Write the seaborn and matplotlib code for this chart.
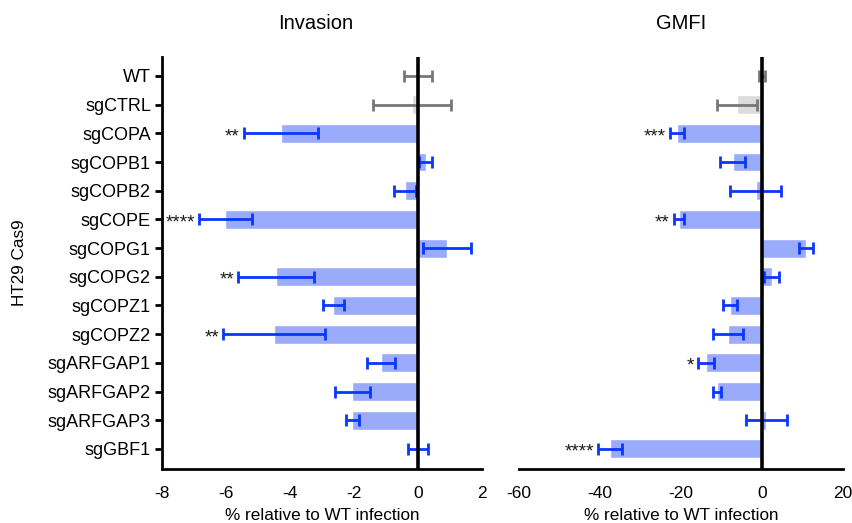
import matplotlib
matplotlib.use("Agg")
import matplotlib.pyplot as plt
import seaborn as sns
import numpy as np
import pandas as pd

sns.set_style("white")
plt.rcParams['font.family'] = ['Liberation Sans', 'DejaVu Sans']
plt.rcParams['text.color'] = 'black'
plt.rcParams['axes.labelcolor'] = 'black'

categories = ["WT", "sgCTRL", "sgCOPA", "sgCOPB1", "sgCOPB2", "sgCOPE", "sgCOPG1",
              "sgCOPG2", "sgCOPZ1", "sgCOPZ2", "sgARFGAP1", "sgARFGAP2", "sgARFGAP3", "sgGBF1"]

invasion_mean = [0.0, -0.19, -4.28, 0.24, -0.40, -6.02, 0.90,
                 -4.43, -2.65, -4.50, -1.15, -2.05, -2.05, 0.0]
invasion_err = [0.45, 1.23, 1.16, 0.20, 0.34, 0.82, 0.75,
                1.19, 0.33, 1.59, 0.43, 0.54, 0.21, 0.30]
invasion_stars = ["", "", "**", "", "", "****", "", "**", "", "**", "", "", "", ""]

gmfi_mean = [0.0, -6.2, -21.0, -7.2, -1.5, -20.5, 10.9,
             2.4, -7.9, -8.4, -13.8, -11.1, 1.1, -37.5]
gmfi_err = [0.8, 5.0, 1.8, 3.1, 6.3, 1.3, 1.65,
            1.85, 1.8, 3.6, 2.0, 0.95, 5.1, 3.0]
gmfi_stars = ["", "", "***", "", "", "**", "", "", "", "", "*", "", "", "****"]

panel_titles = ["Invasion", "GMFI"]
xlabel = "% relative to WT infection"
ylabel = "HT29 Cas9"

bar_colors = ["#dcdcdc", "#dcdcdc"] + ["#9aabfb"] * 12
err_colors = ["#777777", "#777777"] + ["#0a36ff"] * 12

fig = plt.figure(figsize=(8.52, 5.23), dpi=100)
ax1 = fig.add_axes([162/852, 1-469/523, 320/852, 412/523])
ax2 = fig.add_axes([519/852, 1-469/523, 324/852, 412/523])

def draw(ax, means, errs, stars, xlim, xticks, title, title_x, show_y):
    df = pd.DataFrame({"cat": categories, "val": means})
    sns.barplot(data=df, x="val", y="cat", hue="cat", palette=bar_colors,
                legend=False, ax=ax, width=0.66, saturation=1, zorder=2)
    ypos = np.arange(len(categories))
    for i in range(len(categories)):
        ax.errorbar(means[i], ypos[i], xerr=errs[i], fmt="none", ecolor=err_colors[i],
                    elinewidth=2.0, capsize=4.3, capthick=2.0, zorder=3)
        if stars[i]:
            ax.annotate(stars[i], xy=(means[i] - errs[i], ypos[i]),
                        xytext=(-3, -2.5), textcoords="offset points",
                        ha="right", va="center", fontsize=13.5, color="#1a1a1a", zorder=4)
    ax.axvline(0, color="black", lw=2.6, zorder=5)
    ax.set_xlim(*xlim)
    ax.set_ylim(13.7, -0.66)
    ax.set_xticks(xticks)
    ax.set_xticklabels([str(t) for t in xticks], fontsize=12.5)
    ax.set_xlabel(xlabel, fontsize=12.3, labelpad=5)
    ax.set_title(title, fontsize=14.5, pad=20, x=title_x)
    for s in ["top", "right"]:
        ax.spines[s].set_visible(False)
    ax.spines["bottom"].set_linewidth(2.0)
    ax.spines["bottom"].set_color("black")
    ax.tick_params(axis="x", direction="out", length=5, width=2.0, colors="black",
                   labelcolor="black", pad=7)
    if show_y:
        ax.spines["left"].set_linewidth(2.0)
        ax.spines["left"].set_color("black")
        ax.set_yticks(ypos)
        ax.set_yticklabels(categories, fontsize=13)
        ax.tick_params(axis="y", direction="out", length=5, width=2.0, colors="black",
                       labelcolor="black", pad=3, left=True)
        ax.set_ylabel(ylabel, fontsize=12.3)
        ax.yaxis.set_label_coords((27 - 162) / 320, 0.5)
    else:
        ax.spines["left"].set_visible(False)
        ax.set_yticks([])
        ax.set_ylabel("")

draw(ax1, invasion_mean, invasion_err, invasion_stars, (-8, 2), [-8, -6, -4, -2, 0, 2],
     panel_titles[0], 0.48, True)
draw(ax2, gmfi_mean, gmfi_err, gmfi_stars, (-60, 20), [-60, -40, -20, 0, 20],
     panel_titles[1], 0.5, False)

fig.savefig("out.png", dpi=100)
